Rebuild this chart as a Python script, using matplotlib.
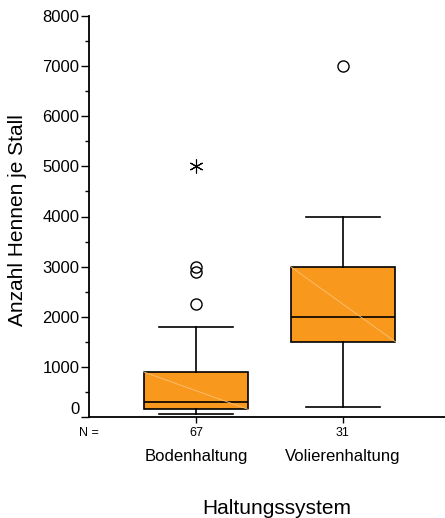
import matplotlib
matplotlib.use("Agg")
import matplotlib.pyplot as plt
from matplotlib.ticker import MultipleLocator

plt.rcParams['font.family'] = ['Liberation Sans', 'DejaVu Sans']

# ---- data ----
categories = ["Bodenhaltung", "Volierenhaltung"]
n_counts = [67, 31]
whis_low = [50, 200]
q1_vals = [150, 1500]
medians = [300, 2000]
q3_vals = [900, 3000]
whis_high = [1800, 4000]
outliers_circle = [[2250, 2900, 3000], [7000]]
outliers_extreme = [[5000], []]
yticks = [0, 1000, 2000, 3000, 4000, 5000, 6000, 7000, 8000]

box_color = "#F8981D"

fig = plt.figure(figsize=(4.45, 5.18), dpi=100)
ax = fig.add_axes([89/445, 1-417/518, 356/445, 401/518])

positions = [1, 2]
stats = []
for i, c in enumerate(categories):
    stats.append(dict(label=str(n_counts[i]), whislo=whis_low[i], q1=q1_vals[i],
                      med=medians[i], q3=q3_vals[i], whishi=whis_high[i],
                      fliers=outliers_circle[i]))

ax.bxp(stats, positions=positions, widths=0.714, patch_artist=True,
       boxprops=dict(facecolor=box_color, edgecolor="black", linewidth=1.2),
       medianprops=dict(color="black", linewidth=1.2),
       whiskerprops=dict(color="black", linewidth=1.2),
       capprops=dict(color="black", linewidth=1.2),
       capwidths=0.5,
       flierprops=dict(marker="o", markersize=8, markerfacecolor="none",
                       markeredgecolor="black", markeredgewidth=1.0))

# faint diagonal across boxes
for i, p in enumerate(positions):
    ax.plot([p - 0.357, p + 0.357], [q3_vals[i], q1_vals[i]], color="#FBC27A",
            linewidth=0.6, zorder=2.5)
    # extreme values
    if outliers_extreme[i]:
        ax.plot([p] * len(outliers_extreme[i]), outliers_extreme[i], linestyle="none",
                marker=(6, 2, 0), markersize=10, color="black", markeredgewidth=0.8)

ax.set_xlim(0.272, 2.694)
ax.set_ylim(0, 8000)
ax.set_yticks(yticks)
ax.yaxis.set_minor_locator(MultipleLocator(500))
ax.set_xticks(positions)
ax.set_xticklabels([str(n) for n in n_counts], fontsize=9)

for s in ["top", "right"]:
    ax.spines[s].set_visible(False)
ax.spines["left"].set_linewidth(1.3)
ax.spines["bottom"].set_linewidth(1.3)

ax.tick_params(axis="y", which="major", length=6, width=1.0, labelsize=12, pad=1)
ax.tick_params(axis="y", which="minor", length=3, width=1.0)
ax.tick_params(axis="x", which="major", length=4, width=1.0, pad=3)

# lift the "0" label like the reference
for lbl in ax.get_yticklabels():
    if lbl.get_text() == "0":
        lbl.set_verticalalignment("bottom")

# N = label
ax.annotate("N =", xy=(0.0, 0), xycoords=("axes fraction", "data"),
            xytext=(0, -16), textcoords="offset pixels", ha="center", va="center",
            fontsize=9)

for i, c in enumerate(categories):
    ax.annotate(c, xy=(positions[i], 0), xycoords=("data", "data"),
                xytext=(0, -40), textcoords="offset pixels", ha="center",
                va="center", fontsize=12)

ax.set_ylabel("Anzahl Hennen je Stall", fontsize=15)
ax.yaxis.set_label_coords(-0.202, 0.49)
ax.set_xlabel("Haltungssystem", fontsize=15)
ax.xaxis.set_label_coords(0.528, -0.227)
ax.xaxis.label.set_verticalalignment("center")
ax.yaxis.label.set_verticalalignment("center")

fig.savefig("out.png", dpi=100)
